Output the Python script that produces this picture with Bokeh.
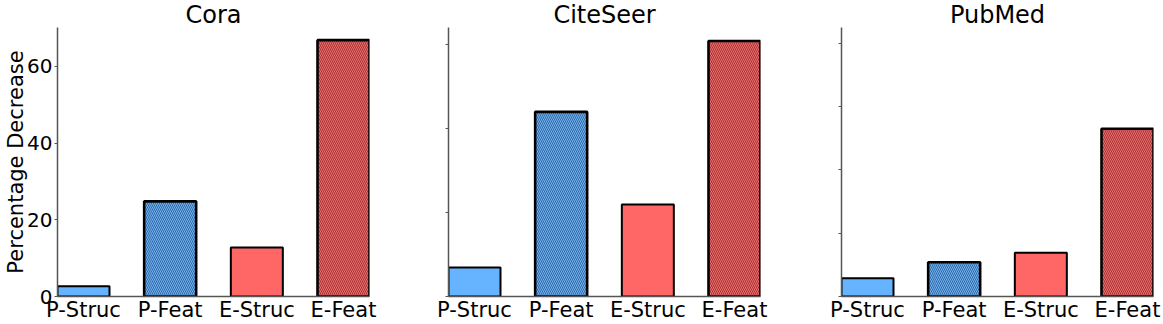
from bokeh.plotting import figure
from bokeh.layouts import row
from bokeh.models import FixedTicker, ColumnDataSource, Range1d
from bokeh.embed import file_html
from bokeh.resources import INLINE

categories = ["P-Struc", "P-Feat", "E-Struc", "E-Feat"]
datasets = ["Cora", "CiteSeer", "PubMed"]
cora = [2.7, 24.8, 12.8, 66.8]
citeseer = [6.9, 44.0, 21.9, 60.9]
pubmed = [2.9, 5.4, 6.9, 26.5]
values = [cora, citeseer, pubmed]
y_ticks = [[0, 20, 40, 60], [0, 20, 40, 60], [0, 10, 20, 30, 40]]
y_max = [70.1, 64.1, 42.5]

# styles
colors = ["#66b3ff", "#66b3ff", "#ff6666", "#ff6666"]
hatches = [" ", "\\", " ", "\\"]
edge_widths = [2, 2.6, 2, 2.6]

FONT = "DejaVu Sans"
borders = [(57, 40), (39, 40), (41, 10)]

figs = []
for i, (name, vals) in enumerate(zip(datasets, values)):
    xs = list(range(len(categories)))
    src = ColumnDataSource(dict(x=xs, top=vals, color=colors, hatch=hatches, lw=edge_widths))
    p = figure(frame_width=312, frame_height=269,
               x_range=Range1d(-0.3, len(categories) - 0.7),
               y_range=Range1d(0, y_max[i]),
               output_backend="svg", toolbar_location=None,
               min_border_left=borders[i][0], min_border_right=borders[i][1],
               min_border_top=27, min_border_bottom=26,
               title=name)
    p.title.align = "center"
    p.title.text_font = FONT
    p.title.text_font_size = "24px"
    p.title.text_font_style = "normal"
    p.title.text_color = "black"
    p.title.standoff = -3

    p.vbar(x="x", top="top", width=0.6, bottom=0, source=src,
           fill_color="color", line_color="black", line_width="lw",
           hatch_pattern="hatch", hatch_color="black", hatch_scale=4,
           hatch_weight=1, hatch_alpha=0.42)
    p.outline_line_color = None
    p.grid.visible = False

    p.xaxis.ticker = FixedTicker(ticks=xs)
    p.xaxis.major_label_overrides = {x: c for x, c in zip(xs, categories)}
    p.xaxis.major_label_text_font = FONT
    p.xaxis.major_label_text_font_size = "21px"
    p.xaxis.major_label_text_color = "black"
    p.xaxis.major_tick_line_color = None
    p.xaxis.major_tick_out = 0
    p.xaxis.major_tick_in = 0
    p.xaxis.minor_tick_line_color = None
    p.xaxis.major_label_standoff = 1
    p.xaxis.axis_line_color = "#555555"
    p.xaxis.axis_line_width = 1.5

    p.yaxis.ticker = FixedTicker(ticks=y_ticks[i])
    p.yaxis.minor_tick_line_color = None
    p.yaxis.major_tick_out = 3
    p.yaxis.major_tick_in = 0
    p.yaxis.major_tick_line_color = "#555555"
    p.yaxis.axis_line_color = "#555555"
    p.yaxis.axis_line_width = 1.5
    p.yaxis.major_label_text_font = FONT
    p.yaxis.major_label_text_font_size = "20px"
    p.yaxis.major_label_text_color = "black"
    if i == 0:
        p.yaxis.major_label_standoff = 2
        p.yaxis.axis_label = "Percentage Decrease"
        p.yaxis.axis_label_text_font = FONT
        p.yaxis.axis_label_text_font_size = "21px"
        p.yaxis.axis_label_text_font_style = "normal"
        p.yaxis.axis_label_text_color = "black"
        p.yaxis.axis_label_standoff = -4
    else:
        p.yaxis.major_label_overrides = {t: "" for t in y_ticks[i]}
        p.yaxis.major_label_standoff = 0
    figs.append(p)

layout = row(*figs, spacing=0)
open("out.html", "w").write(file_html(layout, INLINE))
